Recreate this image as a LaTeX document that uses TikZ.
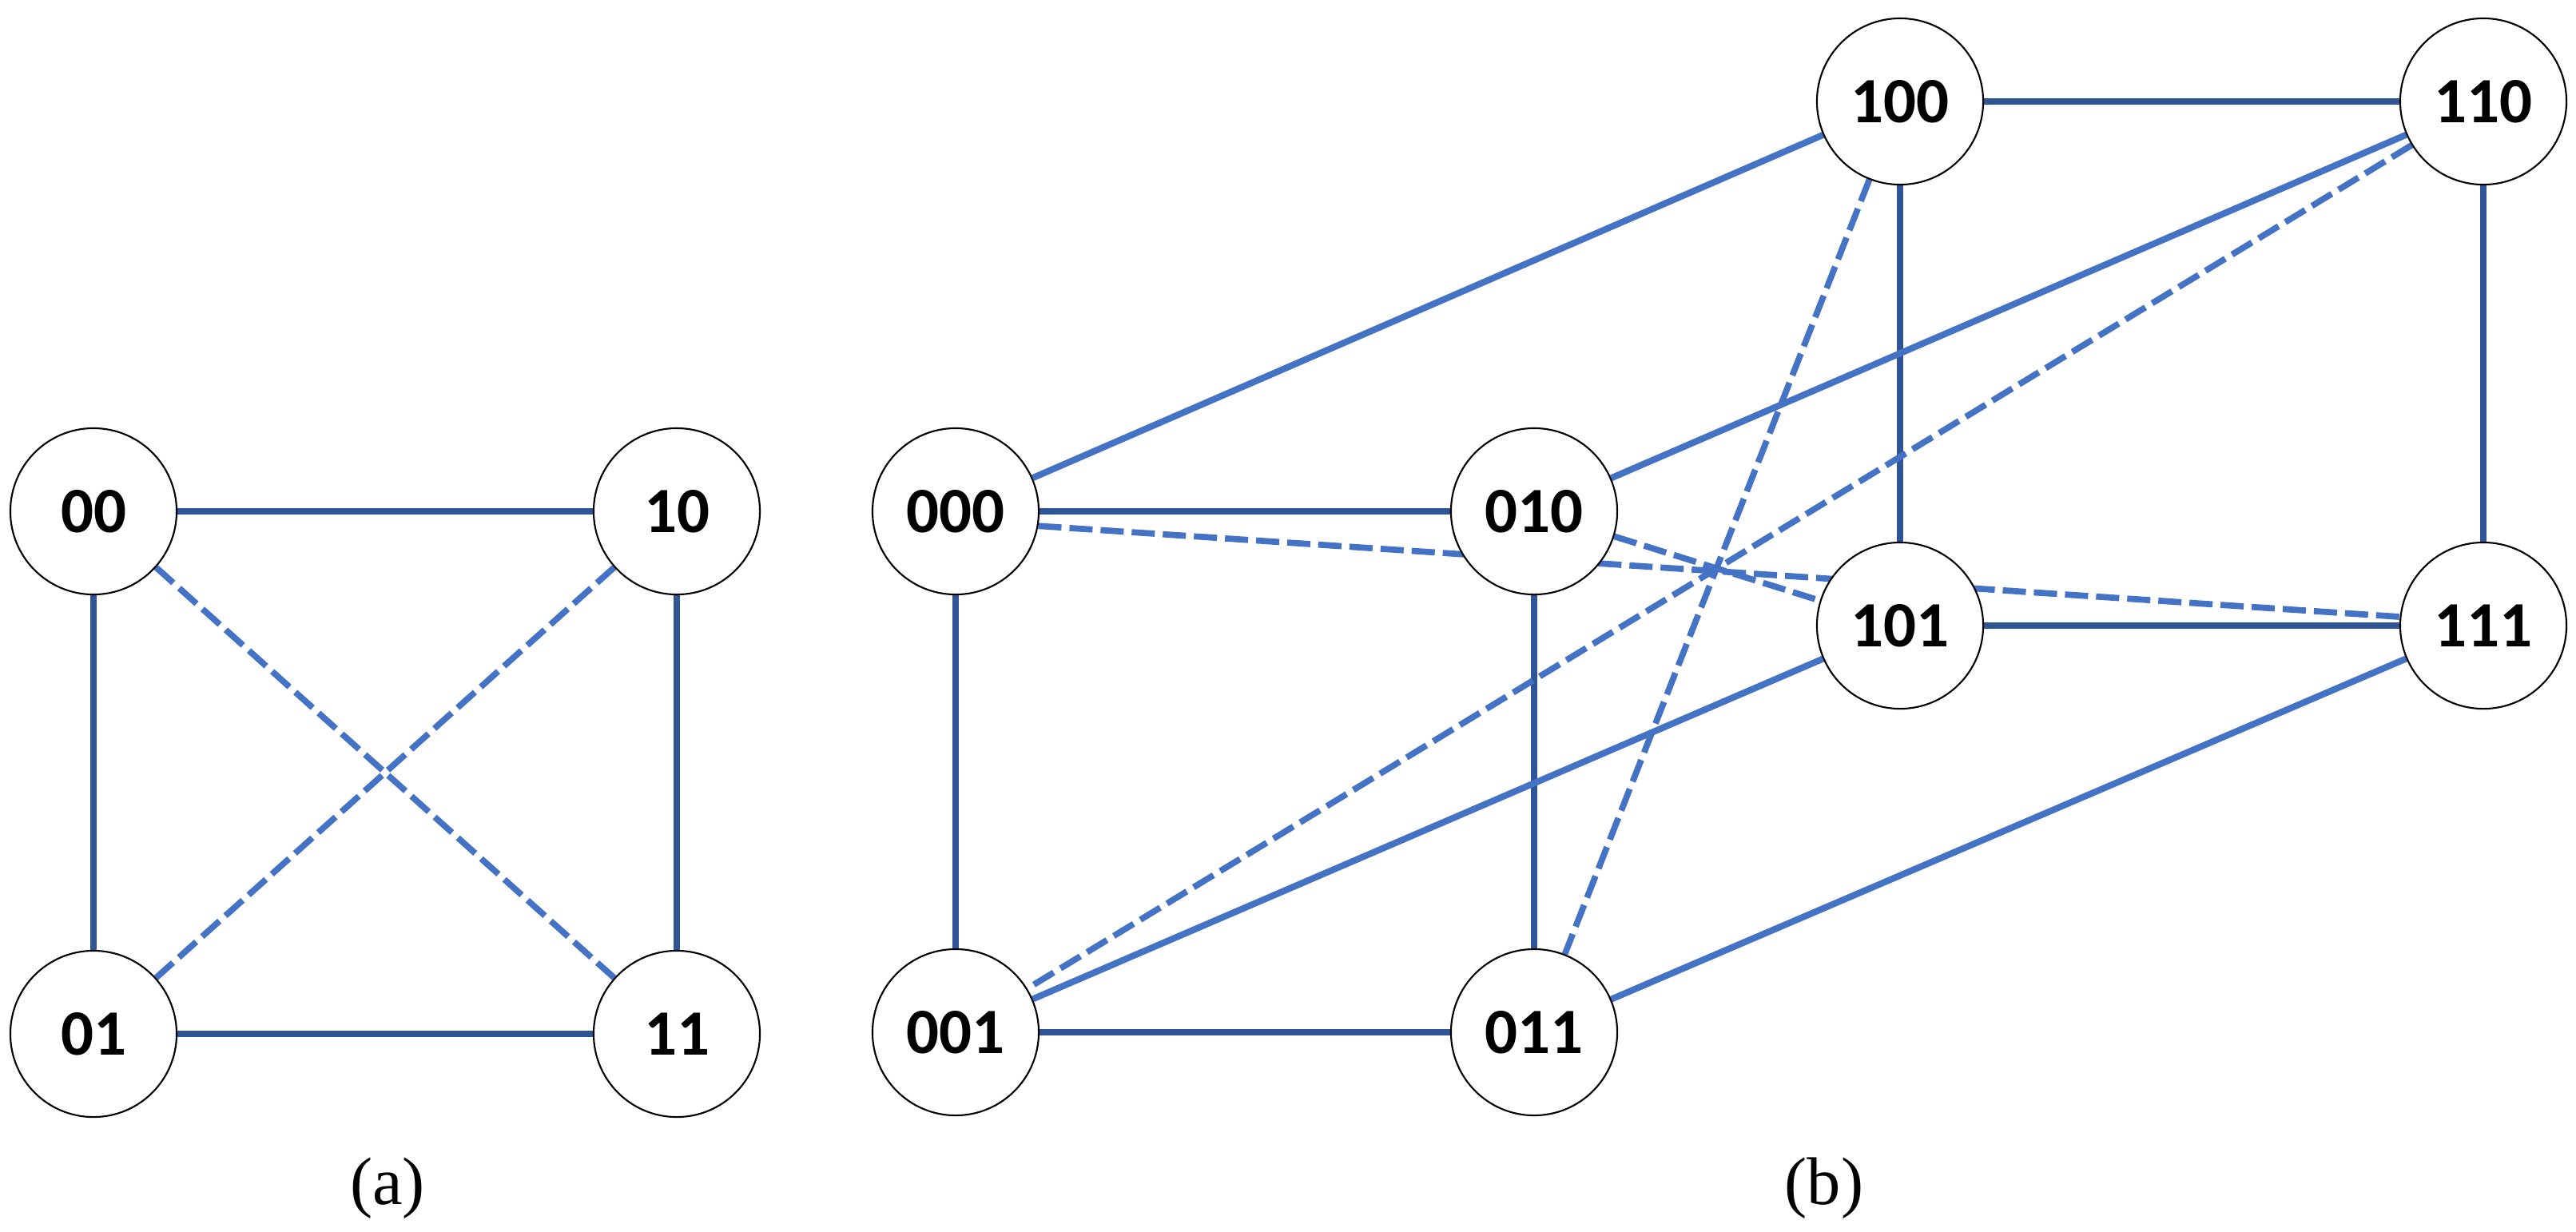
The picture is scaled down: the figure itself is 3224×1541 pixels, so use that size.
\documentclass[tikz,border=0pt]{standalone}
\usepackage{fontspec}
\setmainfont{Liberation Serif}
\newfontfamily\calfont{Carlito}
\usetikzlibrary{backgrounds}
\definecolor{darkb}{HTML}{2F5597}
\definecolor{lightb}{HTML}{4472C4}
\begin{document}
\begin{tikzpicture}[x=0.01cm,y=-0.01cm,
  vtx/.style={circle, draw=black, line width=0.6pt, fill=white, minimum size=2.08cm, inner sep=0pt,
    font=\calfont\bfseries\fontsize{23}{26}\selectfont},
  se/.style={draw=darkb, line width=2.3pt},
  le/.style={draw=lightb, line width=2.3pt},
  de/.style={draw=lightb, line width=2.2pt, dash pattern=on 0.29cm off 0.1cm},
  lbl/.style={font=\fontsize{24}{28}\selectfont, inner sep=0pt}]
\useasboundingbox (0,0) rectangle (3224,1541);
% (a)
\node[vtx] (a00) at (117,640) {00};
\node[vtx] (a10) at (847,640) {10};
\node[vtx] (a01) at (117,1294) {01};
\node[vtx] (a11) at (847,1294) {11};
% (b)
\node[vtx] (b000) at (1196,640) {000};
\node[vtx] (b010) at (1920,640) {010};
\node[vtx] (b001) at (1196,1292) {001};
\node[vtx] (b011) at (1920,1292) {011};
\node[vtx] (b100) at (2378,127) {100};
\node[vtx] (b110) at (3108,127) {110};
\node[vtx] (b101) at (2378,783) {101};
\node[vtx] (b111) at (3108,783) {111};
\node[lbl] (la) at (485,1487) {(a)};
\node[lbl] (lb) at (2283,1487) {(b)};
\begin{scope}[on background layer]
  % (a)
  \draw[se] (a00) -- (a10);
  \draw[se] (a00) -- (a01);
  \draw[se] (a10) -- (a11);
  \draw[se] (a01) -- (a11);
  \draw[de] (a00) -- (a11);
  \draw[de] (a10) -- (a01);
  % (b) dark solid
  \draw[se] (b000) -- (b010);
  \draw[se] (b000) -- (b001);
  \draw[se] (b010) -- (b011);
  \draw[se] (b001) -- (b011);
  \draw[se] (b100) -- (b110);
  \draw[se] (b100) -- (b101);
  \draw[se] (b110) -- (b111);
  \draw[se] (b101) -- (b111);
  % (b) light solid
  \draw[le] (b000) -- (b100);
  \draw[le] (b010) -- (b110);
  \draw[le] (b001) -- (b101);
  \draw[le] (b011) -- (b111);
  % (b) dashed
  \draw[de] (b000.-10.5) -- (b111.174.4);
  \draw[de] (b010) -- (b101);
  \draw[de] (b100) -- (b011);
  \draw[de] (b110) -- (b001);
\end{scope}
\end{tikzpicture}
\end{document}
